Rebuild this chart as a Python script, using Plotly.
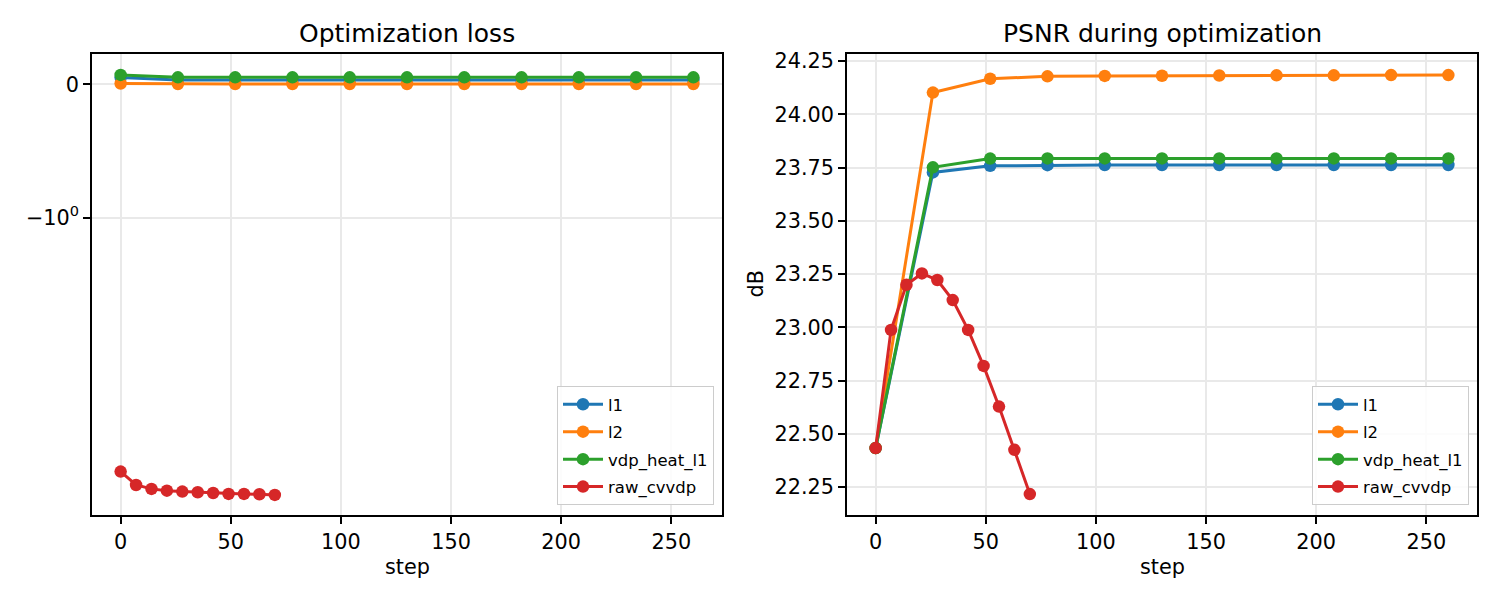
import numpy as np
import plotly.graph_objects as go

# ---------------- data ----------------
steps_main = [0, 26, 52, 78, 104, 130, 156, 182, 208, 234, 260]
steps_raw = [0, 7, 14, 21, 28, 35, 42, 49, 56, 63, 70]

loss_l1 = [0.05, 0.032, 0.032, 0.032, 0.032, 0.032, 0.032, 0.032, 0.032, 0.032, 0.032]
loss_l2 = [0.006, 0.002, 0.002, 0.002, 0.002, 0.002, 0.002, 0.002, 0.002, 0.002, 0.002]
loss_vdp = [0.07, 0.052, 0.052, 0.052, 0.052, 0.052, 0.052, 0.052, 0.052, 0.052, 0.052]
loss_raw = [-7.80, -8.69, -8.97, -9.10, -9.17, -9.22, -9.27, -9.34, -9.34, -9.37, -9.42]

psnr_l1 = [22.433, 23.727, 23.758, 23.761, 23.762, 23.762, 23.762, 23.762, 23.762, 23.762, 23.762]
psnr_l2 = [22.433, 24.102, 24.167, 24.178, 24.180, 24.181, 24.182, 24.183, 24.183, 24.184, 24.184]
psnr_vdp = [22.433, 23.751, 23.792, 23.793, 23.793, 23.793, 23.793, 23.793, 23.793, 23.793, 23.793]
psnr_raw = [22.433, 22.988, 23.200, 23.253, 23.222, 23.128, 22.988, 22.819, 22.628, 22.425, 22.217]

series_names = ["l1", "l2", "vdp_heat_l1", "raw_cvvdp"]
colors = ["#1f77b4", "#ff7f0e", "#2ca02c", "#d62728"]

loss_ticks = [0, -1]
loss_ticktext = ["0", "\u221210<sup>0</sup>"]
x_ticks = [0, 50, 100, 150, 200, 250]
psnr_ticks = [22.25, 22.5, 22.75, 23.0, 23.25, 23.5, 23.75, 24.0, 24.25]


# symmetric-log transform (linear within +-1, logarithmic outside)
def symlog(v, linthresh=1.0, decade=2.134):
    v = np.asarray(v, dtype=float)
    a = np.abs(v)
    out = np.where(a <= linthresh, v,
                   np.sign(v) * (linthresh + decade * np.log10(np.maximum(a, 1e-12) / linthresh)))
    return out


FONT = "DejaVu Sans"
fig = go.Figure()

loss_sets = [loss_l1, loss_l2, loss_vdp, loss_raw]
psnr_sets = [psnr_l1, psnr_l2, psnr_vdp, psnr_raw]
step_sets = [steps_main, steps_main, steps_main, steps_raw]

for name, col, st, ls in zip(series_names, colors, step_sets, loss_sets):
    fig.add_trace(go.Scatter(
        x=st, y=symlog(ls), mode="lines+markers", name=name,
        line=dict(color=col, width=3),
        marker=dict(color=col, size=12.5),
        xaxis="x", yaxis="y", legend="legend", legendgroup="L_" + name))

for name, col, st, ps in zip(series_names, colors, step_sets, psnr_sets):
    fig.add_trace(go.Scatter(
        x=st, y=ps, mode="lines+markers", name=name,
        line=dict(color=col, width=3),
        marker=dict(color=col, size=12.5),
        xaxis="x2", yaxis="y2", legend="legend2", legendgroup="R_" + name))

W, H = 1500, 600
axis_common = dict(
    showline=True, mirror=True, linecolor="black", linewidth=1.6,
    ticks="outside", ticklen=7, tickwidth=1.6, tickcolor="black",
    showgrid=True, gridcolor="#e9e9e9", gridwidth=1.5,
    zeroline=False, automargin=False,
    tickfont=dict(family=FONT, size=20.8, color="black"),
)

legend_common = dict(
    xanchor="right", yanchor="bottom",
    bgcolor="rgba(255,255,255,0.85)", bordercolor="#cccccc", borderwidth=1,
    font=dict(family=FONT, size=16.5, color="black"), tracegroupgap=3,
    itemwidth=40,
)

fig.update_layout(
    width=W, height=H,
    margin=dict(l=0, r=0, t=0, b=0, pad=0, autoexpand=False),
    paper_bgcolor="white", plot_bgcolor="white",
    font=dict(family=FONT, color="black"),
    xaxis=dict(domain=[92 / W, 722 / W], anchor="y", range=[-13, 273],
               tickvals=x_ticks, **axis_common),
    yaxis=dict(domain=[1 - 515 / H, 1 - 54 / H], anchor="x",
               range=[-3.229, 0.227], tickvals=loss_ticks, ticktext=loss_ticktext,
               **axis_common),
    xaxis2=dict(domain=[847 / W, 1477 / W], anchor="y2", range=[-13, 273],
                tickvals=x_ticks, **axis_common),
    yaxis2=dict(domain=[1 - 515 / H, 1 - 54 / H], anchor="x2",
                range=[22.119, 24.283], tickvals=psnr_ticks, tickformat=".2f",
                **axis_common),
    legend=dict(x=714 / W, y=1 - 505 / H, **legend_common),
    legend2=dict(x=1469 / W, y=1 - 505 / H, **legend_common),
    showlegend=True,
)

annotations = [
    dict(text="Optimization loss", x=407 / W, y=1 - 33 / H, xref="paper", yref="paper",
         showarrow=False, font=dict(family=FONT, size=25, color="black"),
         xanchor="center", yanchor="middle"),
    dict(text="PSNR during optimization", x=1162 / W, y=1 - 33 / H, xref="paper", yref="paper",
         showarrow=False, font=dict(family=FONT, size=25, color="black"),
         xanchor="center", yanchor="middle"),
    dict(text="step", x=407 / W, y=1 - 567 / H, xref="paper", yref="paper",
         showarrow=False, font=dict(family=FONT, size=20.8, color="black"),
         xanchor="center", yanchor="middle"),
    dict(text="step", x=1162 / W, y=1 - 567 / H, xref="paper", yref="paper",
         showarrow=False, font=dict(family=FONT, size=20.8, color="black"),
         xanchor="center", yanchor="middle"),
    dict(text="dB", x=755 / W, y=1 - 284.5 / H, xref="paper", yref="paper",
         showarrow=False, textangle=-90, font=dict(family=FONT, size=20.8, color="black"),
         xanchor="center", yanchor="middle"),
]
fig.update_layout(annotations=annotations)

fig.write_html("out.html")
